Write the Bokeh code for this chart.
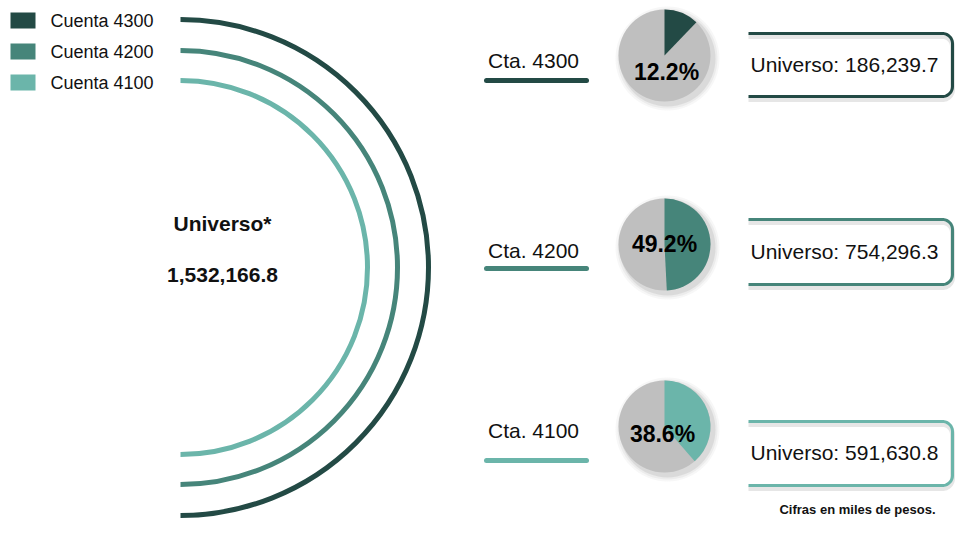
import numpy as np
from bokeh.plotting import figure
from bokeh.models import Range1d
from bokeh.core.properties import value
from bokeh.embed import file_html
from bokeh.resources import INLINE

# ---------------- data ----------------
cuentas = ["Cuenta 4300", "Cuenta 4200", "Cuenta 4100"]
cta_labels = ["Cta. 4300", "Cta. 4200", "Cta. 4100"]
porcentajes = [12.2, 49.2, 38.6]
universos = [186239.7, 754296.3, 591630.8]
universo_total = 1532166.8
titulo_total = "Universo*"
nota = "Cifras en miles de pesos."
colores = ["#234a45", "#46857a", "#6bb5aa"]
gris = "#bfbfbf"

# ---------------- layout helpers (picture px -> data) ----------------
W, H = 955, 519
def X(sx):
    return sx
def Y(sy):
    return H - sy

FONT = value("Liberation Sans")

p = figure(width=W, height=H, output_backend="svg", toolbar_location=None,
           x_range=Range1d(0, W), y_range=Range1d(0, H),
           min_border=0, outline_line_color=None)
p.axis.visible = False
p.grid.visible = False
p.background_fill_color = "white"
p.border_fill_color = "white"

# ---------------- legend ----------------
leg_y = [20, 51, 82]
for c, lab, ly in zip(colores, cuentas, leg_y):
    p.quad(left=X(10), right=X(35), top=Y(ly - 8), bottom=Y(ly + 8),
           fill_color=c, line_color=None)
    p.text(x=[X(50)], y=[Y(ly)], text=[lab], text_font=FONT,
           text_font_size="18px", text_color="#111111",
           text_align="left", text_baseline="middle")

# ---------------- concentric arcs ----------------
radii = [248, 217, 187]
cx, cy = X(180), Y(267)
for c, r in zip(colores, radii):
    p.arc(x=[cx], y=[cy], radius=r, start_angle=-np.pi / 2, end_angle=np.pi / 2,
          line_color=c, line_width=5)

p.text(x=[X(222)], y=[Y(223)], text=[titulo_total], text_font=FONT,
       text_font_size="21px", text_font_style="bold", text_color="#111111",
       text_align="center", text_baseline="middle")
p.text(x=[X(222)], y=[Y(274)], text=[f"{universo_total:,.1f}"], text_font=FONT,
       text_font_size="21px", text_font_style="bold", text_color="#111111",
       text_align="center", text_baseline="middle")

# ---------------- rows: Cta labels, pies, boxes ----------------
cta_text_y = [60, 250, 430]
cta_line_y = [80, 268, 460]
pie_y = [55, 244, 426]
pct_y = [71, 243, 433]
pct_x = [666, 664, 662]
box_top = [33, 219, 421]
box_bot = [96, 284, 485]
pie_x = 664
pie_r = 46

for i in range(3):
    c = colores[i]
    # Cta label + underline
    p.text(x=[X(533)], y=[Y(cta_text_y[i])], text=[cta_labels[i]], text_font=FONT,
           text_font_size="21px", text_color="#111111",
           text_align="center", text_baseline="middle")
    p.line(x=[X(486), X(586)], y=[Y(cta_line_y[i])] * 2, line_color=c,
           line_width=5, line_cap="round")

    # pie shadow
    for k, a in zip([52, 50, 48], [0.06, 0.08, 0.14]):
        p.circle(x=[X(pie_x + 3)], y=[Y(pie_y[i] + 3)], radius=k,
                 fill_color="#707070", fill_alpha=a, line_color=None)
    # pie background
    p.circle(x=[X(pie_x)], y=[Y(pie_y[i])], radius=pie_r,
             fill_color=gris, line_color=None)
    # share slice
    frac = porcentajes[i] / 100.0
    p.wedge(x=[X(pie_x)], y=[Y(pie_y[i])], radius=pie_r,
            start_angle=np.pi / 2, end_angle=np.pi / 2 - 2 * np.pi * frac,
            direction="clock", fill_color=c, line_color=None)
    p.text(x=[X(pct_x[i])], y=[Y(pct_y[i])], text=[f"{porcentajes[i]:.1f}%"],
           text_font=FONT, text_font_size="23px", text_font_style="bold",
           text_color="#000000", text_align="center", text_baseline="middle")

    # bracket box (top line, rounded right side, bottom line)
    left, right, rc = 748, 952, 10
    t, b = box_top[i], box_bot[i]
    th1 = np.linspace(np.pi / 2, 0, 12)
    th2 = np.linspace(0, -np.pi / 2, 12)
    xs = [left] + list(right - rc + rc * np.cos(th1)) + list(right - rc + rc * np.cos(th2)) + [left]
    ys = [t] + list(t + rc - rc * np.sin(th1)) + list(b - rc - rc * np.sin(th2)) + [b]
    xs_d = [X(v) for v in xs]
    ys_d = [Y(v) for v in ys]
    # soft shadow
    p.line(x=xs_d, y=[v - 3 for v in ys_d], line_color="#9a9a9a", line_alpha=0.25,
           line_width=5)
    p.line(x=xs_d, y=ys_d, line_color=c, line_width=3, line_join="round")
    p.text(x=[X(750)], y=[Y((t + b) / 2 - 1)], text=[f"Universo: {universos[i]:,.1f}"],
           text_font=FONT, text_font_size="21px", text_color="#111111",
           text_align="left", text_baseline="middle")

# ---------------- footnote ----------------
p.text(x=[X(857)], y=[Y(509)], text=[nota], text_font=FONT,
       text_font_size="13px", text_font_style="bold", text_color="#111111",
       text_align="center", text_baseline="middle")

open("out.html", "w").write(file_html(p, INLINE))
